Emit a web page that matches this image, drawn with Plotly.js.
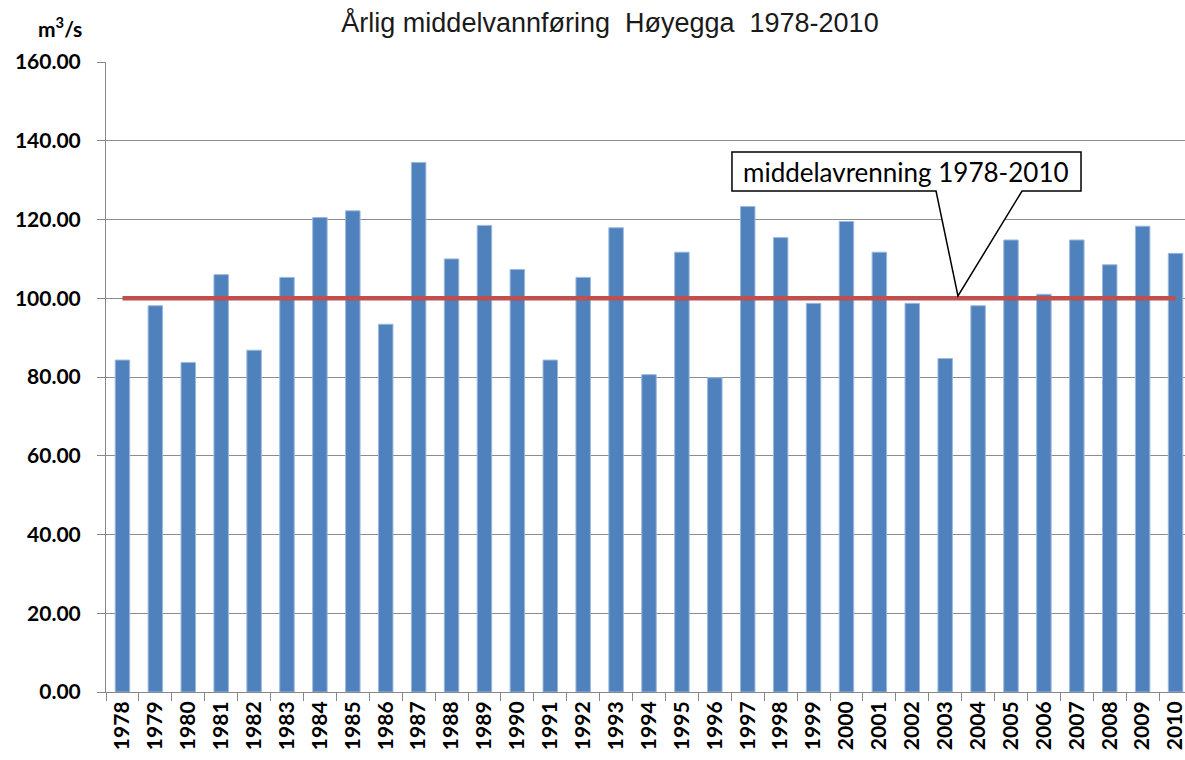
<!DOCTYPE html>
<html>
<head>
<meta charset="utf-8">
<script src="https://cdn.plot.ly/plotly-3.0.1.min.js"></script>
<style>
html,body{margin:0;padding:0;overflow:hidden;background:#fff;}
#chart{width:1200px;height:760px;}
</style>
</head>
<body>
<div id="chart"></div>
<script>
var years = ["1978","1979","1980","1981","1982","1983","1984","1985","1986","1987",
             "1988","1989","1990","1991","1992","1993","1994","1995","1996","1997",
             "1998","1999","2000","2001","2002","2003","2004","2005","2006","2007",
             "2008","2009","2010"];
var flow = [84.3,98.1,83.7,106.0,86.8,105.3,120.5,122.2,93.4,134.5,
            110.0,118.5,107.3,84.3,105.3,117.9,80.6,111.7,79.8,123.3,
            115.4,98.7,119.5,111.7,98.7,84.7,98.1,114.8,101.0,114.8,
            108.5,118.3,111.4];
var meanFlow = 100.0;
var yTicks = [0,20,40,60,80,100,120,140,160];
var yTickLabels = ["0.00","20.00","40.00","60.00","80.00","100.00","120.00","140.00","160.00"];
var titleText = "Årlig middelvannføring\u00A0 Høyegga\u00A0 1978-2010";
var calloutText = "middelavrenning 1978-2010";
var unitText = "m<sup>3</sup>/s";

var meanLine = years.map(function(){ return meanFlow; });

var traces = [
  {
    type: "bar",
    x: years,
    y: flow,
    marker: {color: "#4F81BD", line: {color: "#9DB9DD", width: 1}},
    hoverinfo: "x+y"
  },
  {
    type: "scatter",
    mode: "lines",
    x: years,
    y: meanLine,
    line: {color: "#C0504D", width: 4.5},
    hoverinfo: "y"
  }
];

var L=0.5764, R=0.8978, T=0.8571, B=0.7952, PL=0.7643, PR=0.8435, TX=0.7845, TY=0.6286;
var calloutPath = "M "+L+","+T+" L "+R+","+T+" L "+R+","+B+" L "+PR+","+B+
                  " L "+TX+","+TY+" L "+PL+","+B+" L "+L+","+B+" Z";

var layout = {
  width: 1200,
  height: 760,
  margin: {l: 106, r: 8, t: 62, b: 68, pad: 0},
  paper_bgcolor: "#fff",
  plot_bgcolor: "#fff",
  showlegend: false,
  bargap: 0.56,
  title: {
    text: titleText,
    font: {family: "Liberation Sans, Arial, sans-serif", size: 27, color: "#1a1a1a"},
    xref: "container", x: 610/1200, xanchor: "center",
    yref: "container", y: 1 - 23/760, yanchor: "middle"
  },
  xaxis: {
    type: "category",
    showgrid: false,
    showline: true,
    linecolor: "#888",
    linewidth: 1,
    ticks: "outside",
    tickson: "boundaries",
    ticklen: 8,
    tickcolor: "#888",
    tickangle: -90,
    tickfont: {family: "Lato, Liberation Sans, sans-serif", size: 21, color: "#000", weight: "bold"},
    fixedrange: true
  },
  yaxis: {
    range: [0, 160],
    tickvals: yTicks,
    ticktext: yTickLabels,
    showgrid: true,
    gridcolor: "#8c8c8c",
    gridwidth: 1,
    zeroline: false,
    showline: true,
    linecolor: "#888",
    linewidth: 1,
    ticks: "outside",
    ticklen: 8,
    tickcolor: "#888",
    tickfont: {family: "Lato, Liberation Sans, sans-serif", size: 21, color: "#000", weight: "bold"},
    ticklabelstandoff: 12,
    fixedrange: true
  },
  shapes: [
    {
      type: "path",
      xref: "paper", yref: "paper",
      path: calloutPath,
      fillcolor: "#fff",
      line: {color: "#000", width: 1.5},
      layer: "above"
    }
  ],
  annotations: [
    {
      xref: "paper", yref: "paper",
      x: (L+R)/2, y: (T+B)/2,
      xanchor: "center", yanchor: "middle",
      text: calloutText,
      showarrow: false,
      font: {family: "Lato, Liberation Sans, sans-serif", size: 26, color: "#000"}
    },
    {
      xref: "paper", yref: "paper",
      x: (60-106)/1086, y: (692-27)/630,
      xanchor: "center", yanchor: "middle",
      text: unitText,
      showarrow: false,
      font: {family: "Lato, Liberation Sans, sans-serif", size: 21, color: "#000", weight: "bold"}
    }
  ]
};

Plotly.newPlot("chart", traces, layout, {displayModeBar: false, staticPlot: true});
</script>
</body>
</html>
